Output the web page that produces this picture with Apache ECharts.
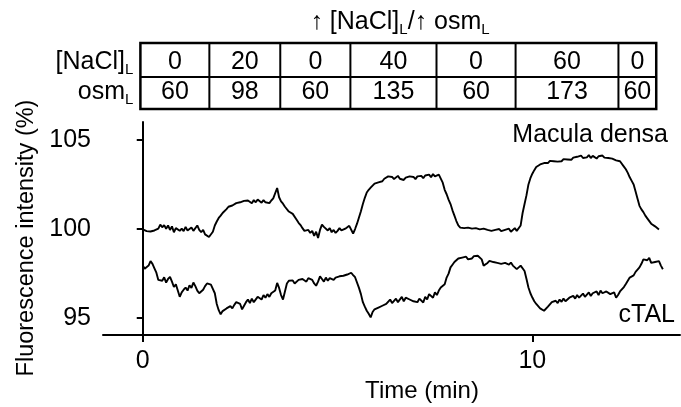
<!DOCTYPE html>
<html>
<head>
<meta charset="utf-8">
<script src="https://cdn.jsdelivr.net/npm/echarts@6/dist/echarts.min.js"></script>
<style>
  html, body { margin: 0; padding: 0; background: #fff; }
  #chart { width: 681px; height: 407px; }
</style>
</head>
<body>
<div id="chart"></div>
<script>
// Sample times of the recording (min), one sample every 3 s
const timeMin = [
  0.00, 0.05, 0.10, 0.15, 0.20, 0.25, 0.30, 0.35, 0.40, 0.45, 0.50, 0.55, 0.60, 0.65, 0.70, 0.75, 0.80, 0.85, 0.90, 0.95,
  1.00, 1.05, 1.10, 1.15, 1.20, 1.25, 1.30, 1.35, 1.40, 1.45, 1.50, 1.55, 1.60, 1.65, 1.70, 1.75, 1.80, 1.85, 1.90, 1.95,
  2.00, 2.05, 2.10, 2.15, 2.20, 2.25, 2.30, 2.35, 2.40, 2.45, 2.50, 2.55, 2.60, 2.65, 2.70, 2.75, 2.80, 2.85, 2.90, 2.95,
  3.00, 3.05, 3.10, 3.15, 3.20, 3.25, 3.30, 3.35, 3.40, 3.45, 3.50, 3.55, 3.60, 3.65, 3.70, 3.75, 3.80, 3.85, 3.90, 3.95,
  4.00, 4.05, 4.10, 4.15, 4.20, 4.25, 4.30, 4.35, 4.40, 4.45, 4.50, 4.55, 4.60, 4.65, 4.70, 4.75, 4.80, 4.85, 4.90, 4.95,
  5.00, 5.05, 5.10, 5.15, 5.20, 5.25, 5.30, 5.35, 5.40, 5.45, 5.50, 5.55, 5.60, 5.65, 5.70, 5.75, 5.80, 5.85, 5.90, 5.95,
  6.00, 6.05, 6.10, 6.15, 6.20, 6.25, 6.30, 6.35, 6.40, 6.45, 6.50, 6.55, 6.60, 6.65, 6.70, 6.75, 6.80, 6.85, 6.90, 6.95,
  7.00, 7.05, 7.10, 7.15, 7.20, 7.25, 7.30, 7.35, 7.40, 7.45, 7.50, 7.55, 7.60, 7.65, 7.70, 7.75, 7.80, 7.85, 7.90, 7.95,
  8.00, 8.05, 8.10, 8.15, 8.20, 8.25, 8.30, 8.35, 8.40, 8.45, 8.50, 8.55, 8.60, 8.65, 8.70, 8.75, 8.80, 8.85, 8.90, 8.95,
  9.00, 9.05, 9.10, 9.15, 9.20, 9.25, 9.30, 9.35, 9.40, 9.45, 9.50, 9.55, 9.60, 9.65, 9.70, 9.75, 9.80, 9.85, 9.90, 9.95,
  10.00, 10.05, 10.10, 10.15, 10.20, 10.25, 10.30, 10.35, 10.40, 10.45, 10.50, 10.55, 10.60, 10.65, 10.70, 10.75, 10.80, 10.85, 10.90, 10.95,
  11.00, 11.05, 11.10, 11.15, 11.20, 11.25, 11.30, 11.35, 11.40, 11.45, 11.50, 11.55, 11.60, 11.65, 11.70, 11.75, 11.80, 11.85, 11.90, 11.95,
  12.00, 12.05, 12.10, 12.15, 12.20, 12.25, 12.30, 12.35, 12.40, 12.45, 12.50, 12.55, 12.60, 12.65, 12.70, 12.75, 12.80, 12.85, 12.90, 12.95,
  13.00, 13.05, 13.10, 13.15, 13.20, 13.25, 13.30, 13.35
];

// Fluorescence intensity (%) of the macula densa cell
const maculaDensa = [
  99.98, 99.92, 99.88, 99.82, 99.86, 99.84, 99.92, 99.88, 100.02, 100.25, 100.1, 100.22, 100.02, 100.2, 99.95, 100.15, 99.82, 100.05, 100.12, 99.9,
  100.02, 99.88, 100.12, 99.92, 99.86, 100.08, 99.9, 99.98, 100.2, 99.95, 99.82, 99.95, 99.7, 99.78, 99.55, 99.62, 99.85, 100.2, 100.42, 100.62,
  100.75, 100.9, 100.95, 101.12, 101.25, 101.18, 101.32, 101.28, 101.45, 101.38, 101.5, 101.42, 101.58, 101.48, 101.6, 101.52, 101.45, 101.62, 101.5, 101.65,
  101.55, 101.48, 101.62, 101.5, 101.58, 101.45, 101.6, 101.72, 101.82, 102.3, 101.78, 101.55, 101.42, 101.25, 101.2, 100.98, 100.95, 100.85, 100.75, 100.52,
  100.35, 100.22, 100.05, 99.9, 99.82, 99.95, 99.78, 99.9, 99.62, 99.85, 99.5, 99.95, 100.25, 100.12, 100.18, 99.92, 100.05, 99.82, 99.95, 99.78,
  99.9, 100.05, 99.92, 99.88, 100.02, 99.95, 100.18, 100.08, 99.75, 100.0, 100.3, 100.65, 101.0, 101.4, 101.75, 102.05, 102.2, 102.32, 102.4, 102.55,
  102.5, 102.62, 102.72, 102.68, 102.82, 102.78, 102.95, 102.85, 102.92, 102.8, 102.9, 102.98, 102.82, 102.9, 102.75, 102.88, 102.82, 102.95, 102.88, 102.92,
  102.8, 102.95, 102.88, 102.98, 102.85, 103.0, 102.92, 103.05, 102.9, 103.08, 102.95, 102.88, 103.05, 102.98, 102.6, 102.2, 101.95, 101.65, 101.4, 101.05,
  100.75, 100.45, 100.2, 100.08, 99.98, 100.05, 99.95, 100.08, 99.98, 100.02, 99.92, 100.05, 99.95, 99.98, 99.88, 100.02, 99.92, 99.95, 99.85, 99.9,
  99.8, 99.95, 99.85, 100.0, 99.88, 99.8, 99.95, 99.9, 100.02, 99.85, 99.95, 100.05, 99.9, 99.95, 100.2, 100.9, 101.4, 101.9, 102.5, 102.85,
  103.1, 103.3, 103.48, 103.55, 103.62, 103.58, 103.7, 103.78, 103.7, 103.82, 103.75, 103.8, 103.9, 103.78, 103.85, 103.8, 103.92, 103.85, 103.9, 103.98,
  103.88, 104.0, 103.92, 104.05, 103.95, 104.12, 103.98, 104.08, 104.02, 104.15, 103.98, 104.1, 104.05, 103.95, 104.08, 104.02, 104.12, 104.0, 104.06, 103.98,
  104.05, 103.95, 103.98, 103.85, 103.88, 103.8, 103.7, 103.5, 103.35, 103.15, 102.9, 102.7, 102.5, 102.1, 101.7, 101.3, 101.1, 100.95, 100.75, 100.6,
  100.5, 100.3, 100.35, 100.15, 100.05, 99.98
];

// Fluorescence intensity (%) of the cortical thick ascending limb cell
const cTAL = [
  97.95, 97.78, 97.72, 97.95, 98.2, 98.05, 97.8, 97.55, 97.15, 97.25, 97.1, 97.3, 97.0, 97.2, 97.32, 97.05, 96.75, 96.9, 96.55, 96.2,
  96.45, 96.6, 96.72, 96.55, 96.85, 96.7, 97.0, 96.8, 96.55, 96.4, 96.35, 96.6, 96.8, 96.95, 97.02, 96.88, 96.95, 96.4, 95.8, 95.45,
  95.22, 95.4, 95.3, 95.55, 95.45, 95.68, 95.55, 95.75, 95.9, 96.0, 95.8, 95.5, 95.7, 95.9, 96.05, 95.85, 96.1, 95.9, 96.0, 96.2,
  96.25, 96.05, 96.3, 96.15, 96.35, 96.2, 96.4, 96.3, 96.55, 96.98, 96.7, 96.3, 96.05, 96.5, 96.95, 97.1, 97.0, 97.12, 96.95, 97.05,
  97.15, 97.05, 97.2, 97.1, 97.05, 97.25, 97.3, 97.15, 96.95, 96.82, 97.05, 97.35, 97.2, 97.05, 97.28, 97.1, 97.25, 97.3, 97.15, 97.28,
  97.2, 97.35, 97.25, 97.38, 97.3, 97.45, 97.35, 97.55, 97.42, 97.3, 97.2, 96.7, 96.35, 95.9, 95.65, 95.42, 95.25, 95.05, 95.35, 95.5,
  95.45, 95.6, 95.55, 95.7, 95.62, 95.8, 95.78, 96.05, 95.85, 95.95, 96.1, 95.9, 96.0, 96.2, 95.95, 96.15, 96.25, 96.05, 96.1, 95.95,
  96.05, 95.9, 96.1, 96.0, 95.88, 96.2, 96.05, 96.35, 96.25, 96.15, 96.45, 96.3, 96.55, 96.72, 96.62, 96.9, 97.28, 97.5, 97.85, 98.0,
  98.15, 98.22, 98.35, 98.28, 98.4, 98.32, 98.45, 98.3, 98.4, 98.35, 98.48, 98.38, 98.5, 98.4, 98.3, 97.95, 97.85, 98.1, 98.22, 98.15,
  98.15, 98.25, 98.1, 98.2, 98.05, 98.15, 98.1, 98.2, 98.0, 98.12, 97.95, 98.05, 97.75, 97.85, 97.95, 97.85, 97.65, 97.2, 96.72, 96.4,
  96.16, 95.95, 95.8, 95.7, 95.55, 95.65, 95.42, 95.5, 95.65, 95.75, 95.9, 95.8, 95.98, 95.85, 96.05, 95.92, 96.1, 95.95, 96.0, 96.15,
  96.05, 96.25, 96.1, 96.3, 96.15, 96.22, 96.38, 96.2, 96.3, 96.45, 96.25, 96.4, 96.35, 96.5, 96.3, 96.55, 96.4, 96.35, 96.5, 96.45,
  96.35, 96.3, 96.45, 96.15, 96.3, 96.5, 96.55, 96.75, 96.92, 97.1, 97.28, 97.2, 97.4, 97.6, 97.55, 97.85, 98.05, 98.3, 98.4, 98.25,
  98.38, 98.1, 98.05, 98.15, 98.1, 98.2, 97.95, 97.75
];

// Axis ticks
const xTicks = [0, 10];
const yTicks = [95, 100, 105];

// Luminal solution protocol: switch times (min) and the value in each period
const solutionSwitchMin = [-0.06, 1.71, 3.53, 5.33, 7.54, 9.57, 12.21, 13.18];
const naclLumen = ['0', '20', '0', '40', '0', '60', '0'];
const osmLumen = ['60', '98', '60', '135', '60', '173', '60'];

const FONT = '"Liberation Sans", Arial, Helvetica, sans-serif';

function pairs(values) {
  return values.map((v, i) => [timeMin[i], v]);
}

const chart = echarts.init(document.getElementById('chart'), null, { renderer: 'canvas' });

chart.setOption({
  animation: false,
  backgroundColor: '#fff',
  grid: { left: 103, right: 1, top: 122, bottom: 72, containLabel: false },
  xAxis: {
    type: 'value',
    min: -1.02,
    max: 13.79,
    axisLine: { show: true, lineStyle: { color: '#000', width: 2 } },
    axisTick: { show: true, customValues: xTicks, length: 7, inside: false, lineStyle: { color: '#000', width: 2 } },
    axisLabel: { customValues: xTicks, color: '#000', fontSize: 25, fontFamily: FONT, margin: 14 },
    splitLine: { show: false }
  },
  yAxis: {
    type: 'value',
    min: 94.06,
    max: 106.0,
    axisLine: { show: true, lineStyle: { color: '#000', width: 2 } },
    axisTick: { show: true, customValues: yTicks, length: 6, inside: false, lineStyle: { color: '#000', width: 2 } },
    axisLabel: { customValues: yTicks, color: '#000', fontSize: 25, fontFamily: FONT, margin: 12 },
    splitLine: { show: false }
  },
  series: [
    {
      name: 'Macula densa',
      type: 'line',
      data: pairs(maculaDensa),
      showSymbol: false,
      lineStyle: { color: '#000', width: 1.9 },
      z: 3
    },
    {
      name: 'cTAL',
      type: 'line',
      data: pairs(cTAL),
      showSymbol: false,
      lineStyle: { color: '#000', width: 1.9 },
      z: 3
    }
  ]
});

// Protocol table above the traces, columns aligned with the time axis
const colX = solutionSwitchMin.map(t => chart.convertToPixel({ xAxisIndex: 0 }, t));
const tableTop = 43, tableMid = 77, tableBottom = 109;
const row1Y = 62, row2Y = 92;

const subRich = {
  m: { fontSize: 25, fontFamily: FONT, lineHeight: 30, fill: '#000' },
  s: { fontSize: 15, fontFamily: FONT, verticalAlign: 'bottom', fill: '#000' }
};

const graphic = [];

// outer frame and grid lines
graphic.push({
  type: 'rect',
  shape: { x: colX[0], y: tableTop, width: colX[colX.length - 1] - colX[0], height: tableBottom - tableTop },
  style: { fill: 'none', stroke: '#000', lineWidth: 2.5 },
  z: 10
});
graphic.push({
  type: 'line',
  shape: { x1: colX[0], y1: tableMid, x2: colX[colX.length - 1], y2: tableMid },
  style: { stroke: '#000', lineWidth: 2 },
  z: 10
});
for (let i = 1; i < colX.length - 1; i++) {
  graphic.push({
    type: 'line',
    shape: { x1: colX[i], y1: tableTop, x2: colX[i], y2: tableBottom },
    style: { stroke: '#000', lineWidth: 2 },
    z: 10
  });
}
// cell values
for (let i = 0; i < naclLumen.length; i++) {
  const cx = (colX[i] + colX[i + 1]) / 2;
  graphic.push({
    type: 'text', x: cx, y: row1Y, z: 11,
    style: { text: naclLumen[i], fontSize: 25, fontFamily: FONT, fill: '#000', align: 'center', verticalAlign: 'middle' }
  });
  graphic.push({
    type: 'text', x: cx, y: row2Y, z: 11,
    style: { text: osmLumen[i], fontSize: 25, fontFamily: FONT, fill: '#000', align: 'center', verticalAlign: 'middle' }
  });
}
// row headers
graphic.push({
  type: 'text', x: colX[0] - 7, y: row1Y, z: 11,
  style: { text: '{m|[NaCl]}{s|L}', rich: subRich, align: 'right', verticalAlign: 'middle' }
});
graphic.push({
  type: 'text', x: colX[0] - 7, y: row2Y, z: 11,
  style: { text: '{m|osm}{s|L}', rich: subRich, align: 'right', verticalAlign: 'middle' }
});
// heading above the table
graphic.push({
  type: 'text', x: 400, y: 22, z: 11,
  style: { text: '{m|↑ [NaCl]}{s|L}{m|/↑ osm}{s|L}', rich: subRich, align: 'center', verticalAlign: 'middle' }
});
// trace labels
graphic.push({
  type: 'text', x: 668, y: 135, z: 11,
  style: { text: 'Macula densa', fontSize: 25, fontFamily: FONT, fill: '#000', align: 'right', verticalAlign: 'middle' }
});
graphic.push({
  type: 'text', x: 675, y: 315, z: 11,
  style: { text: 'cTAL', fontSize: 25, fontFamily: FONT, fill: '#000', align: 'right', verticalAlign: 'middle' }
});
// axis titles
graphic.push({
  type: 'text', x: 27, y: 238, rotation: Math.PI / 2, z: 11,
  style: { text: 'Fluorescence intensity (%)', fontSize: 23.5, fontFamily: FONT, fill: '#000', align: 'center', verticalAlign: 'middle' }
});
graphic.push({
  type: 'text', x: 422, y: 391, z: 11,
  style: { text: 'Time (min)', fontSize: 24, fontFamily: FONT, fill: '#000', align: 'center', verticalAlign: 'middle' }
});

chart.setOption({ graphic: graphic });
</script>
</body>
</html>
